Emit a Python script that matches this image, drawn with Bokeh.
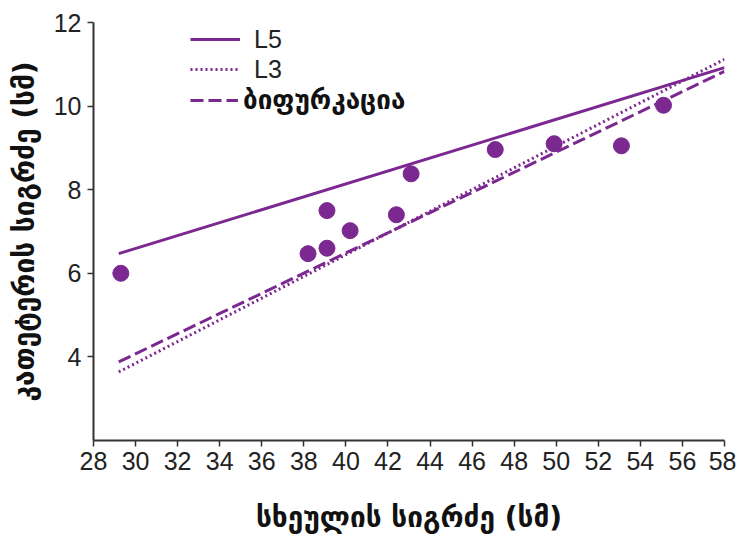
from bokeh.plotting import figure
from bokeh.models import Range1d, Legend, LegendItem, FixedTicker
from bokeh.embed import file_html
from bokeh.resources import INLINE

# data
body_len = [29.3, 38.2, 39.1, 39.1, 40.2, 42.4, 43.1, 47.1, 49.9, 53.1, 55.1]
cath_len = [6.0, 6.47, 6.6, 7.5, 7.02, 7.4, 8.38, 8.96, 9.1, 9.05, 10.02]

line_x = [29.2, 58.0]
l5_y = [6.47, 10.92]
l3_y = [3.64, 11.12]
bif_y = [3.88, 10.83]

x_ticks = list(range(28, 60, 2))
y_ticks = [4, 6, 8, 10, 12]

labels = ["L5", "L3", "ბიფურკაცია"]
x_title = "სხეულის სიგრძე (სმ)"
y_title = "კათეტერის სიგრძე (სმ)"

PURPLE = "#7B2890"

p = figure(width=736, height=540, output_backend="svg", toolbar_location=None,
           x_range=Range1d(28, 58), y_range=Range1d(2, 12),
           min_border_left=93, min_border_right=12, min_border_top=22, min_border_bottom=100)
p.outline_line_color = None
p.xgrid.visible = False
p.ygrid.visible = False

r1 = p.line(line_x, l5_y, line_color=PURPLE, line_width=3)
r2 = p.line(line_x, l3_y, line_color=PURPLE, line_width=3, line_dash="2 3")
r3 = p.line(line_x, bif_y, line_color=PURPLE, line_width=3, line_dash="13 5")
p.scatter(body_len, cath_len, size=16, fill_color=PURPLE, line_color=PURPLE)

for ax in (p.xaxis[0], p.yaxis[0]):
    ax.axis_line_color = "#333333"
    ax.axis_line_width = 2
    ax.major_tick_line_color = "#333333"
    ax.major_tick_line_width = 1.5
    ax.major_tick_out = 6
    ax.major_tick_in = 0
    ax.minor_tick_line_color = None
    ax.major_label_text_font = "Liberation Sans"
    ax.major_label_text_font_size = "25px"
    ax.major_label_text_color = "#222222"
    ax.axis_label_text_font = "DejaVu Sans"
    ax.axis_label_text_font_style = "bold"
    ax.axis_label_text_font_size = "28px"
    ax.axis_label_text_color = "#111111"

p.xaxis.ticker = FixedTicker(ticks=x_ticks)
p.yaxis.ticker = FixedTicker(ticks=y_ticks)
p.xaxis.axis_label = x_title
p.yaxis.axis_label = y_title
p.xaxis.major_label_standoff = 5
p.yaxis.major_label_standoff = 6
p.xaxis.axis_label_standoff = 28
p.yaxis.axis_label_standoff = 10

legend1 = Legend(items=[LegendItem(label=labels[0], renderers=[r1]),
                        LegendItem(label=labels[1], renderers=[r2])],
                 location=(97, 356))
legend2 = Legend(items=[LegendItem(label=labels[2], renderers=[r3])],
                 location=(97, 324))
for lg in (legend1, legend2):
    lg.background_fill_alpha = 0
    lg.border_line_color = None
    lg.padding = 0
    lg.margin = 0
    lg.spacing = 0
    lg.glyph_width = 50
    lg.glyph_height = 30
    lg.label_height = 30
    lg.label_standoff = 14
    lg.label_text_color = "#222222"
legend1.label_text_font = "Liberation Sans"
legend1.label_text_font_size = "25px"
legend2.glyph_height = 32
legend2.label_height = 32
legend2.glyph_width = 48
legend2.label_text_font = "DejaVu Sans"
legend2.label_text_font_style = "bold"
legend2.label_text_font_size = "26px"
legend2.label_standoff = 5
legend2.label_text_color = "#111111"
p.add_layout(legend1)
p.add_layout(legend2)

open("out.html", "w").write(file_html(p, INLINE))
